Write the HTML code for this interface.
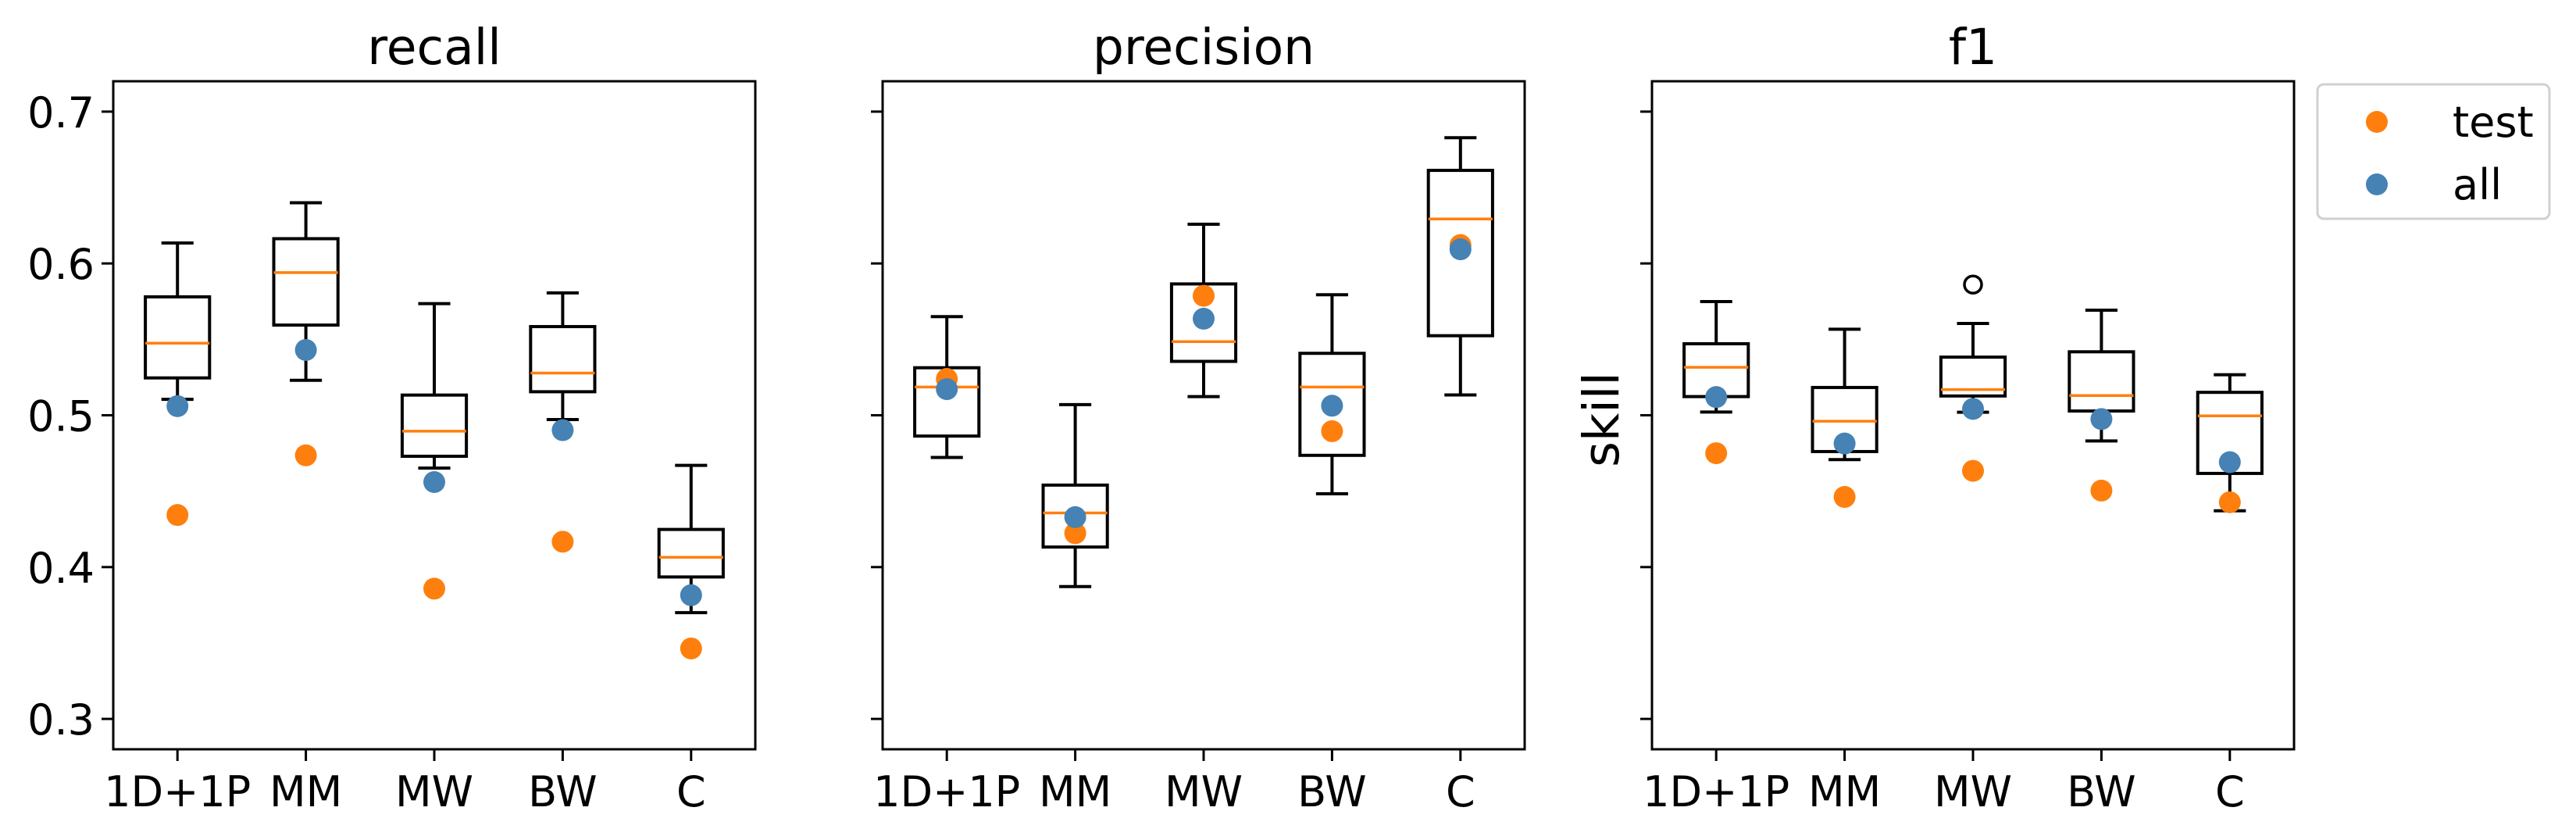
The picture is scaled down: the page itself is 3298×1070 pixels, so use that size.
<!DOCTYPE html>
<html><head><meta charset="utf-8"><style>
html,body{margin:0;padding:0;background:#fff;}
svg{display:block;font-family:"DejaVu Sans","Liberation Sans",sans-serif;}
</style></head><body>
<svg id="fig" width="3298" height="1070" viewBox="0 0 3298 1070" xmlns="http://www.w3.org/2000/svg"></svg>
<script>
const categories = ["1D+1P","MM","MW","BW","C"];
const panelTitles = ["recall","precision","f1"];
const yTicks = [0.3,0.4,0.5,0.6,0.7];
const yTickLabels = ["0.3","0.4","0.5","0.6","0.7"];
// [whisker low, Q1, median, Q3, whisker high]
const recallBoxes = [[0.5105,0.5246,0.5475,0.578,0.6135],[0.523,0.5594,0.594,0.6163,0.640],[0.4652,0.473,0.4895,0.5133,0.5735],[0.4972,0.5155,0.5278,0.5584,0.5806],[0.370,0.3935,0.4065,0.4248,0.467]];
const recallAll = [0.506,0.543,0.456,0.4902,0.3815];
const recallTest = [0.4343,0.4736,0.3858,0.4167,0.3464];
const precisionBoxes = [[0.4722,0.4863,0.5186,0.5313,0.565],[0.3872,0.4132,0.4357,0.454,0.507],[0.5123,0.5355,0.5485,0.5865,0.6258],[0.4483,0.4736,0.5186,0.5408,0.5794],[0.5134,0.5524,0.6293,0.6613,0.6828]];
const precisionAll = [0.5172,0.4329,0.5636,0.5063,0.6093];
const precisionTest = [0.5239,0.4223,0.5787,0.4895,0.6121];
const f1Boxes = [[0.5021,0.5123,0.5316,0.5471,0.5749],[0.4708,0.4761,0.4961,0.5183,0.5567],[0.502,0.5127,0.5169,0.5383,0.5605],[0.4831,0.5028,0.513,0.5418,0.5692],[0.4371,0.4617,0.4996,0.5151,0.5267]];
const f1All = [0.512,0.4814,0.5042,0.4975,0.4691];
const f1Test = [0.475,0.4462,0.4634,0.4504,0.4427];
const f1Outliers = [[],[],[0.5861],[],[]];

const svg = document.getElementById('fig');
const NS = 'http://www.w3.org/2000/svg';
function mk(tag, attrs, parent){ const e=document.createElementNS(NS,tag); for(const k in attrs) e.setAttribute(k,attrs[k]); (parent||svg).appendChild(e); return e; }

const YMIN=0.28, YMAX=0.72, TOP=104, BOT=959, PW=822;
const panelLefts=[145,1130,2115];
function yScale(v){ return BOT - (v-YMIN)/(YMAX-YMIN)*(BOT-TOP); }
function xScale(i,left){ return left + (i+0.5)/categories.length*PW; }

const panels=[
 {boxes:recallBoxes, all:recallAll, test:recallTest, out:[[],[],[],[],[]]},
 {boxes:precisionBoxes, all:precisionAll, test:precisionTest, out:[[],[],[],[],[]]},
 {boxes:f1Boxes, all:f1All, test:f1Test, out:f1Outliers}
];
const unit = PW/categories.length;
const SW = 4;

panels.forEach((p,pi)=>{
  const L=panelLefts[pi];
  const g=mk('g',{});
  
  
  const t=mk('text',{x:L+PW/2,y:82,'text-anchor':'middle','font-size':63,fill:'#000'},g);
  t.textContent=panelTitles[pi];
  
  
  yTicks.forEach((v,k)=>{
    const y=yScale(v);
    const tk=mk('line',{x1:L-15,x2:L,y1:y,y2:y,stroke:'#000','stroke-width':3},g);
    
    
    if(pi===0){
      const tl=mk('text',{x:L-24,y:y+20,'text-anchor':'end','font-size':54,fill:'#000'},g);
      tl.textContent=yTickLabels[k];
      
      
    }
  });
  categories.forEach((c,i)=>{
    const x=xScale(i,L);
    const tk=mk('line',{x1:x,x2:x,y1:BOT,y2:BOT+15,stroke:'#000','stroke-width':3},g);
    
    
    const tl=mk('text',{x:x,y:BOT+73,'text-anchor':'middle','font-size':54,fill:'#000'},g);
    tl.textContent=c;
    
    
    const b=p.boxes[i];
    const bw=unit*0.5, cw=unit*0.25;
    const bg=mk('g',{},g);
    
    
    mk('line',{x1:x,x2:x,y1:yScale(b[0]),y2:yScale(b[1]),stroke:'#000','stroke-width':SW},bg);
    mk('line',{x1:x,x2:x,y1:yScale(b[3]),y2:yScale(b[4]),stroke:'#000','stroke-width':SW},bg);
    mk('line',{x1:x-cw/2,x2:x+cw/2,y1:yScale(b[0]),y2:yScale(b[0]),stroke:'#000','stroke-width':SW},bg);
    mk('line',{x1:x-cw/2,x2:x+cw/2,y1:yScale(b[4]),y2:yScale(b[4]),stroke:'#000','stroke-width':SW},bg);
    mk('rect',{x:x-bw/2,y:yScale(b[3]),width:bw,height:yScale(b[1])-yScale(b[3]),fill:'none',stroke:'#000','stroke-width':SW},bg);
    mk('line',{x1:x-bw/2,x2:x+bw/2,y1:yScale(b[2]),y2:yScale(b[2]),stroke:'#ff7f0e','stroke-width':3.5},bg);
    p.out[i].forEach(v=>{
      const o=mk('circle',{cx:x,cy:yScale(v),r:11,fill:'none',stroke:'#000','stroke-width':3.5},g);
      
      
    });
    const dt=mk('circle',{cx:x,cy:yScale(p.test[i]),r:14,fill:'#ff7f0e'},g);
    
    
    const da=mk('circle',{cx:x,cy:yScale(p.all[i]),r:14,fill:'#4682b4'},g);
    
    
  });
  const fr=mk('rect',{x:L,y:TOP,width:PW,height:BOT-TOP,fill:'none',stroke:'#000','stroke-width':3},g);
  
  
});
const yl=mk('text',{x:0,y:0,'text-anchor':'middle','font-size':63,fill:'#000',transform:'translate(2072,537) rotate(-90)'});
yl.textContent='skill';


const lg=mk('g',{});


mk('rect',{x:2967,y:108,width:297,height:172,rx:8,fill:'#fff',stroke:'#d0d0d0','stroke-width':3},lg);
const e1=mk('g',{},lg);


mk('circle',{cx:3043,cy:156,r:14,fill:'#ff7f0e'},e1);
const t1=mk('text',{x:3140,y:175,'font-size':54,fill:'#000'},e1); t1.textContent='test';
const e2=mk('g',{},lg);


mk('circle',{cx:3043,cy:236,r:14,fill:'#4682b4'},e2);
const t2=mk('text',{x:3140,y:255,'font-size':54,fill:'#000'},e2); t2.textContent='all';
</script>
</body></html>
